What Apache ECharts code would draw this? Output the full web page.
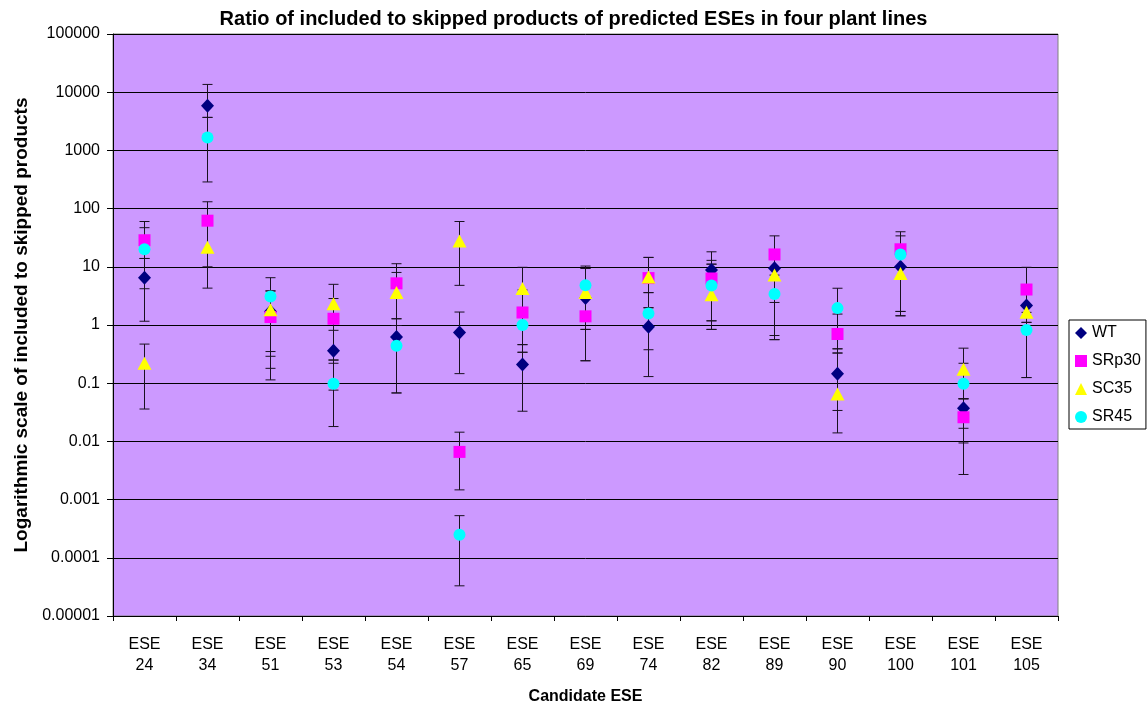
<!DOCTYPE html>
<html>
<head>
<meta charset="utf-8">
<script src="https://cdn.jsdelivr.net/npm/echarts@6/dist/echarts.min.js"></script>
<style>
html,body{margin:0;padding:0;background:#fff;}
#chart{width:1147px;height:710px;}
</style>
</head>
<body>
<div id="chart"></div>
<script>
const categories = ['ESE 24','ESE 34','ESE 51','ESE 53','ESE 54','ESE 57','ESE 65','ESE 69','ESE 74','ESE 82','ESE 89','ESE 90','ESE 100','ESE 101','ESE 105'];
const yTickLabels = ['0.00001','0.0001','0.001','0.01','0.1','1','10','100','1000','10000','100000'];

const wt    = [6.5, 5840, 1.7, 0.36, 0.62, 0.74, 0.21, 2.9, 0.93, 8.8, 9.4, 0.146, 10, 0.037, 2.17];
const srp30 = [28.6, 62, 1.37, 1.28, 5.2, 0.0066, 1.64, 1.41, 6.4, 6.3, 16.3, 0.70, 20, 0.026, 4.07];
const sc35  = [0.22, 21.7, 1.82, 2.31, 3.6, 27.8, 4.24, 3.6, 6.7, 3.3, 7.2, 0.065, 7.7, 0.173, 1.65];
const sr45  = [20, 1660, 3.09, 0.098, 0.44, 0.00025, 1.0, 4.8, 1.57, 4.75, 3.42, 1.95, 16.3, 0.098, 0.82];

const wtLow    = [1.16, 3690, 0.29, 0.076, 0.068, 0.146, 0.033, 0.243, 0.13, 1.18, 0.66, 0.034, 1.44, 0.0094, 1.11];
const wtHigh   = [13.9, 13600, 3.85, 0.81, 1.28, 1.67, 0.46, 9.4, 1.98, 18.1, 16.3, 0.39, 20, 0.054, 4.0];
const srp30Low = [13.9, 10, 0.114, 0.25, 0.98, 0.00147, 0.34, 0.243, 3.6, 1.18, 2.44, 0.33, 1.44, 0.0027, 1.11];
const srp30High= [60, 131, 3.0, 2.85, 11.3, 0.0144, 4.0, 2.9, 14.5, 12.9, 34, 1.54, 40, 0.0168, 9.8];
const sc35Low  = [0.036, 4.3, 0.35, 0.22, 1.28, 4.8, 0.46, 0.84, 1.98, 0.84, 0.56, 0.014, 1.71, 0.054, 0.125];
const sc35High = [0.47, 60, 3.85, 5.0, 8.0, 60, 9.8, 9.4, 14.5, 11.1, 9.4, 0.33, 16, 0.40, 4.0];
const sr45Low  = [4.2, 287, 0.18, 0.018, 0.068, 0.000033, 0.34, 0.84, 0.376, 0.84, 0.56, 0.39, 1.71, 0.054, 0.125];
const sr45High = [47, 3690, 6.5, 0.25, 0.98, 0.00053, 2.0, 10.3, 3.6, 11.1, 7.2, 4.28, 34, 0.22, 1.65];

const FONT = 'Arial, "Liberation Sans", sans-serif';

function errData(lo, hi) {
  return lo.map((v, i) => [i, v, hi[i]]);
}
function errRender(params, api) {
  const x = api.value(0);
  const p1 = api.coord([x, api.value(1)]);
  const p2 = api.coord([x, api.value(2)]);
  const hw = 5;
  const st = { stroke: '#1a1020', lineWidth: 1 };
  return {
    type: 'group',
    children: [
      { type: 'line', shape: { x1: p1[0], y1: p1[1], x2: p2[0], y2: p2[1] }, style: st },
      { type: 'line', shape: { x1: p1[0] - hw, y1: p1[1], x2: p1[0] + hw, y2: p1[1] }, style: st },
      { type: 'line', shape: { x1: p2[0] - hw, y1: p2[1], x2: p2[0] + hw, y2: p2[1] }, style: st }
    ]
  };
}
function errSeries(name, lo, hi) {
  return { name: name, type: 'custom', renderItem: errRender, data: errData(lo, hi),
    encode: { x: 0, y: [1, 2] }, z: 2, silent: true };
}
function pointSeries(name, data, symbol, size, color) {
  return { name: name, type: 'scatter', data: data, symbol: symbol, symbolSize: size,
    itemStyle: { color: color, opacity: 1 }, z: 5 };
}

const chart = echarts.init(document.getElementById('chart'));
chart.setOption({
  animation: false,
  backgroundColor: '#ffffff',
  textStyle: { fontFamily: FONT },
  title: {
    text: 'Ratio of included to skipped products of predicted ESEs in four plant lines',
    left: 'center', top: 4,
    textStyle: { fontFamily: FONT, fontSize: 20, fontWeight: 'bold', color: '#000' }
  },
  grid: {
    left: 113, right: 89, top: 34, bottom: 90,
    show: true, backgroundColor: '#CC99FF', borderColor: '#808080', borderWidth: 1,
    containLabel: false
  },
  legend: {
    orient: 'vertical', left: 1069, top: 320,
    data: ['WT', 'SRp30', 'SC35', 'SR45'],
    backgroundColor: '#ffffff', borderColor: '#000000', borderWidth: 1,
    padding: [5, 5, 4, 6], itemGap: 12, itemWidth: 12, itemHeight: 12,
    textStyle: { fontFamily: FONT, fontSize: 16, color: '#000', lineHeight: 16 }
  },
  xAxis: {
    type: 'category', data: categories,
    name: 'Candidate ESE', nameLocation: 'middle', nameGap: 73,
    nameTextStyle: { fontFamily: FONT, fontSize: 16, fontWeight: 'bold', color: '#000' },
    axisLine: { lineStyle: { color: '#000', width: 1 } },
    axisTick: { show: true, inside: false, length: 5, alignWithLabel: false, lineStyle: { color: '#000' } },
    axisLabel: {
      interval: 0, margin: 18, fontFamily: FONT, fontSize: 16, color: '#000', lineHeight: 21,
      formatter: v => v.replace(' ', '\n')
    },
    splitLine: { show: false }
  },
  yAxis: {
    type: 'log', logBase: 10, min: 0.00001, max: 100000, interval: 1,
    name: 'Logarithmic scale of included to skipped products', nameLocation: 'middle', nameGap: 82,
    nameTextStyle: { fontFamily: FONT, fontSize: 19, fontWeight: 'bold', color: '#000' },
    axisLine: { show: true, lineStyle: { color: '#000', width: 1 } },
    axisTick: { show: true, inside: false, length: 6, lineStyle: { color: '#000' } },
    axisLabel: {
      margin: 13, fontFamily: FONT, fontSize: 16, color: '#000',
      formatter: v => yTickLabels[Math.round(Math.log10(v)) + 5]
    },
    splitLine: { show: true, lineStyle: { color: '#000', width: 1 } }
  },
  series: [
    errSeries('errWT', wtLow, wtHigh),
    errSeries('errSRp30', srp30Low, srp30High),
    errSeries('errSC35', sc35Low, sc35High),
    errSeries('errSR45', sr45Low, sr45High),
    pointSeries('WT', wt, 'diamond', [13, 14], '#000080'),
    pointSeries('SRp30', srp30, 'rect', 12, '#FF00FF'),
    pointSeries('SC35', sc35, 'triangle', [14, 13], '#FFFF00'),
    pointSeries('SR45', sr45, 'circle', 12, '#00FFFF')
  ]
});
</script>
</body>
</html>
